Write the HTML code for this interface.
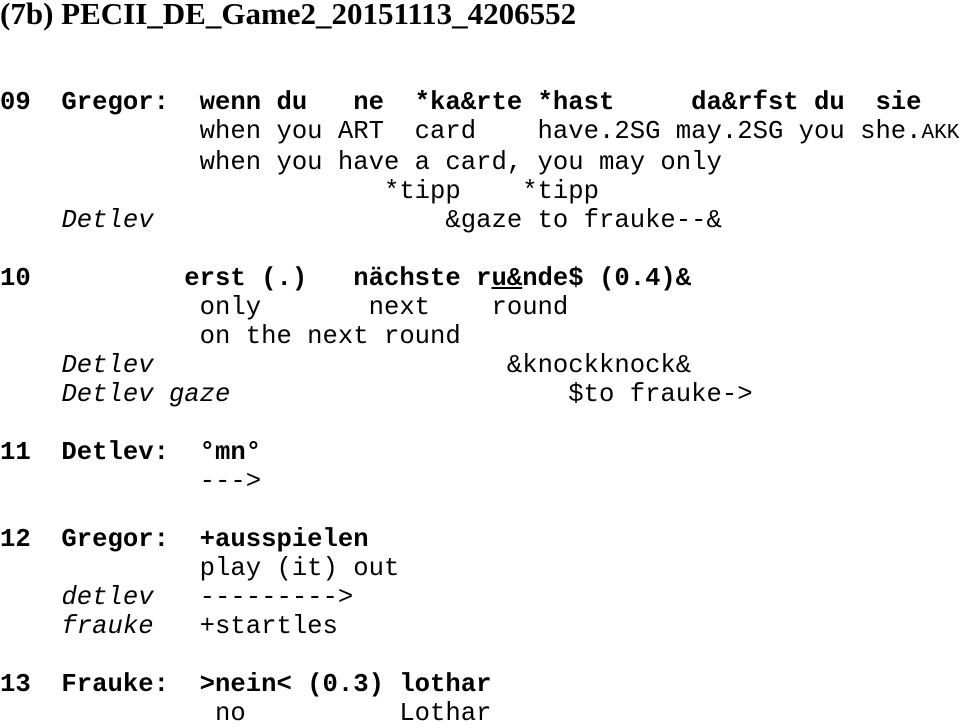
<!DOCTYPE html>
<html><head><meta charset="utf-8"><style>
html,body{margin:0;padding:0;background:#fff;width:971px;height:725px;overflow:hidden}
.t{position:absolute;left:0;top:-4px;font:bold 31px "Liberation Serif",serif;color:#000;white-space:nowrap}
pre{position:absolute;left:0;top:88px;margin:0;font:25.6px/29px "Liberation Mono",monospace;color:#000}
b{font-weight:bold}
.sc{font-size:21px}
</style></head><body>
<div class="t">(7b) PECII_DE_Game2_20151113_4206552</div>
<pre><b>09  Gregor:  wenn du   ne  *ka&amp;rte *hast     da&amp;rfst du  sie</b>
             when you ART  card    have.2SG may.2SG you she.<span class="sc">AKK</span>
             when you have a card, you may only
                         *tipp    *tipp
    <i>Detlev</i>                   &amp;gaze to frauke--&amp;

<b>10          erst (.)   nächste r<u>u&amp;</u>nde$ (0.4)&amp;</b>
             only       next    round
             on the next round
    <i>Detlev</i>                       &amp;knockknock&amp;
    <i>Detlev gaze</i>                      $to frauke-&gt;

<b>11  Detlev:  °mn°</b>
             ---&gt;

<b>12  Gregor:  +ausspielen</b>
             play (it) out
    <i>detlev</i>   ---------&gt;
    <i>frauke</i>   +startles

<b>13  Frauke:  &gt;nein&lt; (0.3) lothar</b>
              no          Lothar</pre>
</body></html>
